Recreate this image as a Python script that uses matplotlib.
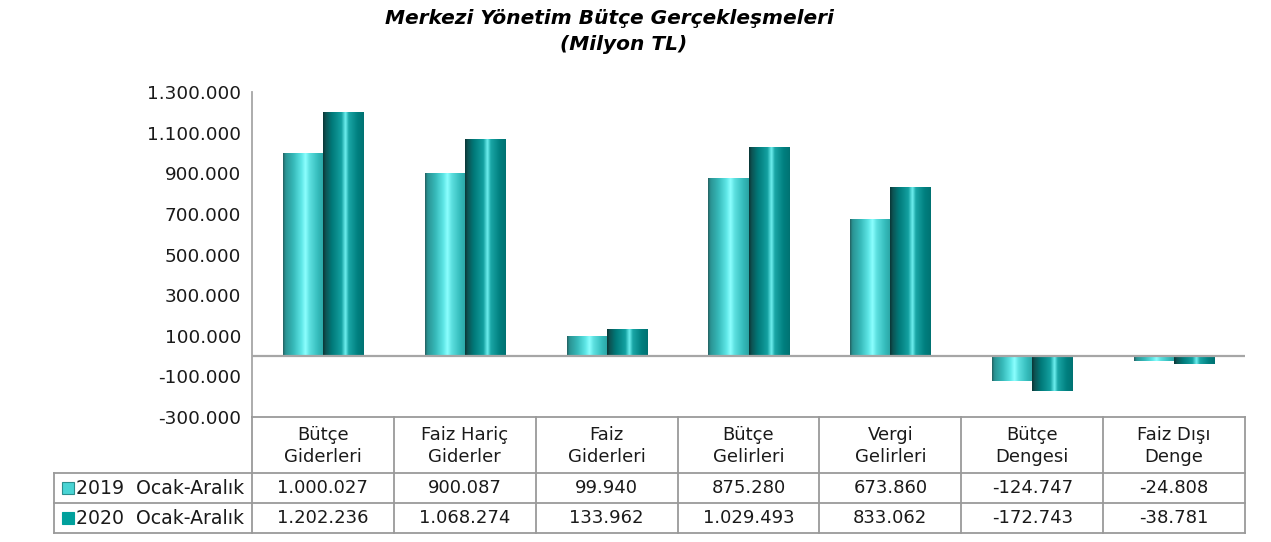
import numpy as np
import matplotlib
matplotlib.use("Agg")
import matplotlib.pyplot as plt
from matplotlib.colors import LinearSegmentedColormap
from matplotlib.lines import Line2D
from matplotlib.patches import Rectangle

# ---- data ----
categories = ["Bütçe\nGiderleri", "Faiz Hariç\nGiderler", "Faiz\nGiderleri",
              "Bütçe\nGelirleri", "Vergi\nGelirleri", "Bütçe\nDengesi", "Faiz Dışı\nDenge"]
series_names = ["2019  Ocak-Aralık", "2020  Ocak-Aralık"]
values_2019 = [1000027, 900087, 99940, 875280, 673860, -124747, -24808]
values_2020 = [1202236, 1068274, 133962, 1029493, 833062, -172743, -38781]
y_ticks = [-300000, -100000, 100000, 300000, 500000, 700000, 900000, 1100000, 1300000]

title_lines = ["Merkezi Yönetim Bütçe Gerçekleşmeleri", "(Milyon TL)"]

W, H = 1271, 542
plt.rcParams['font.family'] = ['DejaVu Sans']
fig = plt.figure(figsize=(W / 100, H / 100), dpi=100)

def fx(x):
    return x / W

def fy(y):
    return 1 - y / H

ax_left, ax_right, ax_top, ax_bottom = 252, 1245, 92, 417
ax = fig.add_axes([fx(ax_left), fy(ax_bottom), (ax_right - ax_left) / W, (ax_bottom - ax_top) / H])

n = len(categories)
x = np.arange(n)
bw = 0.282

cmap19 = LinearSegmentedColormap.from_list("c19", [
    (0.00, "#245f60"), (0.06, "#2a9393"), (0.25, "#36b8b8"), (0.45, "#5ee6e6"),
    (0.55, "#8cffff"), (0.65, "#5de0e0"), (0.85, "#36bdbd"), (1.00, "#2aa3a3")])
cmap20 = LinearSegmentedColormap.from_list("c20", [
    (0.00, "#0a3535"), (0.07, "#0d5454"), (0.22, "#007a7a"), (0.45, "#14a0a0"),
    (0.55, "#6ff0f0"), (0.63, "#1aa6a6"), (0.85, "#007f7f"), (1.00, "#007272")])

bars19 = ax.bar(x - bw / 2, values_2019, width=bw, color="none", edgecolor="none", zorder=3)
bars20 = ax.bar(x + bw / 2, values_2020, width=bw, color="none", edgecolor="none", zorder=3)

grad = np.linspace(0, 1, 256).reshape(1, -1)
for bars, cm in ((bars19, cmap19), (bars20, cmap20)):
    for b in bars:
        x0 = b.get_x()
        x1 = x0 + b.get_width()
        y0 = b.get_y()
        y1 = y0 + b.get_height()
        im = ax.imshow(grad, cmap=cm, aspect="auto", extent=[x0, x1, min(y0, y1), max(y0, y1)],
                       zorder=3, interpolation="bilinear")
        im.set_clip_path(b)

ax.set_xlim(-0.5, n - 0.5)
ax.set_ylim(-300000, 1300000)
ax.axhline(0, color="#a6a6a6", lw=1.6, zorder=4)
ax.set_yticks(y_ticks)
ax.set_yticklabels([f"{v:,}".replace(",", ".") for v in y_ticks], fontsize=13.3, color="#1a1a1a")
ax.tick_params(axis="y", length=0, pad=8)
ax.set_xticks([])
for s in ["top", "right", "bottom"]:
    ax.spines[s].set_visible(False)
ax.spines["left"].set_color("#a6a6a6")
ax.spines["left"].set_linewidth(1.3)

# ---- title ----
fig.text(fx(609), fy(18), title_lines[0], ha="center", va="center", fontsize=14.5,
         fontweight="bold", fontstyle="italic", family="DejaVu Sans")
fig.text(fx(624), fy(44), title_lines[1], ha="center", va="center", fontsize=14.5,
         fontweight="bold", fontstyle="italic", family="DejaVu Sans")

# ---- data table ----
lc = "#9a9a9a"
lw = 1.3
col_w = (ax_right - ax_left) / n
row_top, row_h1, row_h2, row_bot = 417, 473, 503, 533
leg_left = 54

def hline(y, xa, xb):
    fig.add_artist(Line2D([fx(xa), fx(xb)], [fy(y), fy(y)], color=lc, lw=lw))

def vline(xp, ya, yb):
    fig.add_artist(Line2D([fx(xp), fx(xp)], [fy(ya), fy(yb)], color=lc, lw=lw))

hline(row_top, ax_left, ax_right)
for yy in (row_h1, row_h2, row_bot):
    hline(yy, leg_left, ax_right)
for i in range(n + 1):
    vline(ax_left + i * col_w, row_top, row_bot)
vline(leg_left, row_h1, row_bot)

for i, cat in enumerate(categories):
    cx = ax_left + (i + 0.5) * col_w
    fig.text(fx(cx), fy((row_top + row_h1) / 2 + 1), cat, ha="center", va="center",
             fontsize=13, linespacing=1.3, color="#1a1a1a")
    fig.text(fx(cx), fy((row_h1 + row_h2) / 2), f"{values_2019[i]:,}".replace(",", "."),
             ha="center", va="center", fontsize=13, color="#1a1a1a")
    fig.text(fx(cx), fy((row_h2 + row_bot) / 2), f"{values_2020[i]:,}".replace(",", "."),
             ha="center", va="center", fontsize=13, color="#1a1a1a")

marker_cols = [("#49d4d4", "#2a8f8f"), ("#00a09c", "#00a09c")]
for j, (name, yy) in enumerate(zip(series_names, ((row_h1 + row_h2) / 2, (row_h2 + row_bot) / 2))):
    fc, ec = marker_cols[j]
    fig.add_artist(Rectangle((fx(62), fy(yy + 6)), 12 / W, 12 / H, facecolor=fc,
                             edgecolor=ec, lw=0.8, transform=fig.transFigure))
    fig.text(fx(76), fy(yy), name, ha="left", va="center", fontsize=13.6, color="#1a1a1a")

fig.savefig("out.png", dpi=100)
